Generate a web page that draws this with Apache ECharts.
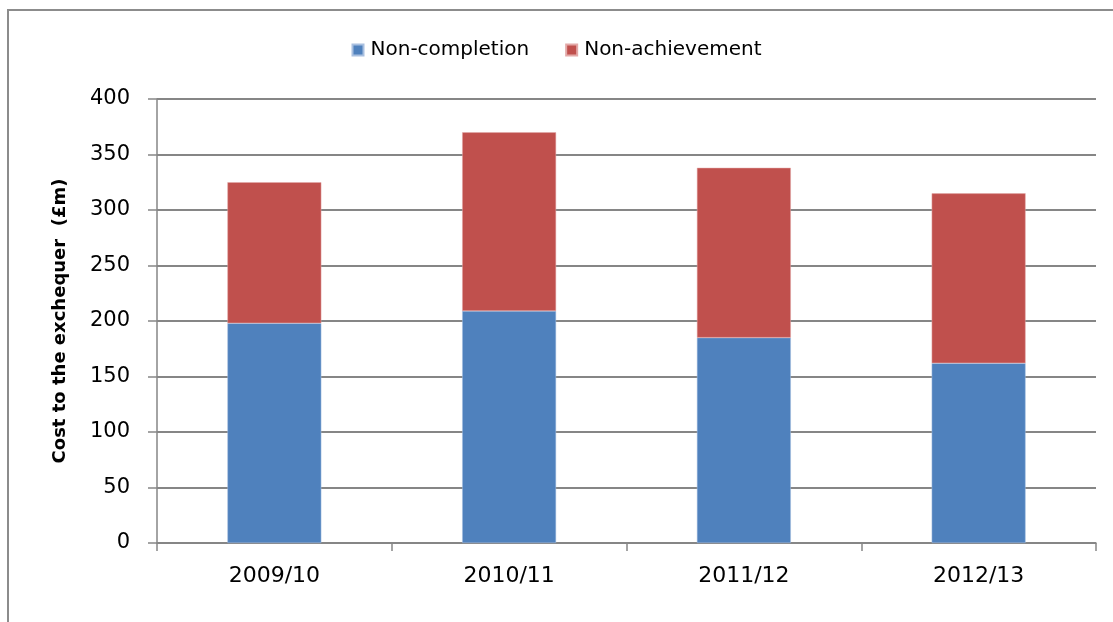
<!DOCTYPE html>
<html>
<head>
<meta charset="utf-8">
<script src="https://cdn.jsdelivr.net/npm/echarts@6/dist/echarts.min.js"></script>
<style>
  html, body { margin: 0; padding: 0; background: #fff; }
  #main { width: 1113px; height: 622px; }
</style>
</head>
<body>
<div id="main"></div>
<script>
// data
var years = ['2009/10', '2010/11', '2011/12', '2012/13'];
var nonCompletion = [198, 209, 185, 162];
var nonAchievement = [127, 161, 153, 153];
var yTicks = { min: 0, max: 400, interval: 50 };

var gridColor = '#868686';
var font = 'DejaVu Sans';

var myChart = echarts.init(document.getElementById('main'));
var option = {
    animation: false,
    textStyle: { fontFamily: font, color: '#000' },
    graphic: [{
        // outer chart frame (only top and left edges are on screen)
        type: 'rect',
        shape: { x: 8, y: 10, width: 1300, height: 800 },
        style: { fill: 'none', stroke: '#8c8c8c', lineWidth: 2 },
        silent: true
    }],
    legend: {
        top: 35,
        left: 'center',
        itemWidth: 11,
        itemHeight: 11,
        itemGap: 36,
        icon: 'rect',
        textStyle: { fontSize: 20, color: '#000', padding: [0, 0, 0, 2] },
        data: ['Non-completion', 'Non-achievement']
    },
    grid: {
        left: 157,
        right: 17,
        top: 99,
        bottom: 79
    },
    xAxis: {
        type: 'category',
        data: years,
        axisLine: { lineStyle: { color: gridColor, width: 1.5 } },
        axisTick: { show: true, length: 8, lineStyle: { color: gridColor, width: 1.5 } },
        axisLabel: { fontSize: 22, color: '#000', margin: 22 }
    },
    yAxis: {
        type: 'value',
        min: yTicks.min,
        max: yTicks.max,
        interval: yTicks.interval,
        name: 'Cost to the exchequer  (£m)',
        nameLocation: 'middle',
        nameGap: 88,
        nameTextStyle: { fontSize: 18, fontWeight: 'bold', color: '#000' },
        axisLine: { show: true, lineStyle: { color: gridColor, width: 1.5 } },
        axisTick: { show: true, length: 9, lineStyle: { color: gridColor, width: 1.5 } },
        axisLabel: { fontSize: 21, color: '#000', margin: 27 },
        splitLine: { lineStyle: { color: gridColor, width: 2 } }
    },
    series: [
        {
            name: 'Non-completion',
            type: 'bar',
            stack: 'cost',
            barWidth: '40%',
            itemStyle: { color: '#4F81BD', borderColor: '#a9c0e0', borderWidth: 0.5 },
            data: nonCompletion
        },
        {
            name: 'Non-achievement',
            type: 'bar',
            stack: 'cost',
            barWidth: '40%',
            itemStyle: { color: '#C0504D', borderColor: '#e3a9a8', borderWidth: 0.5 },
            data: nonAchievement
        }
    ]
};
myChart.setOption(option);
</script>
</body>
</html>
